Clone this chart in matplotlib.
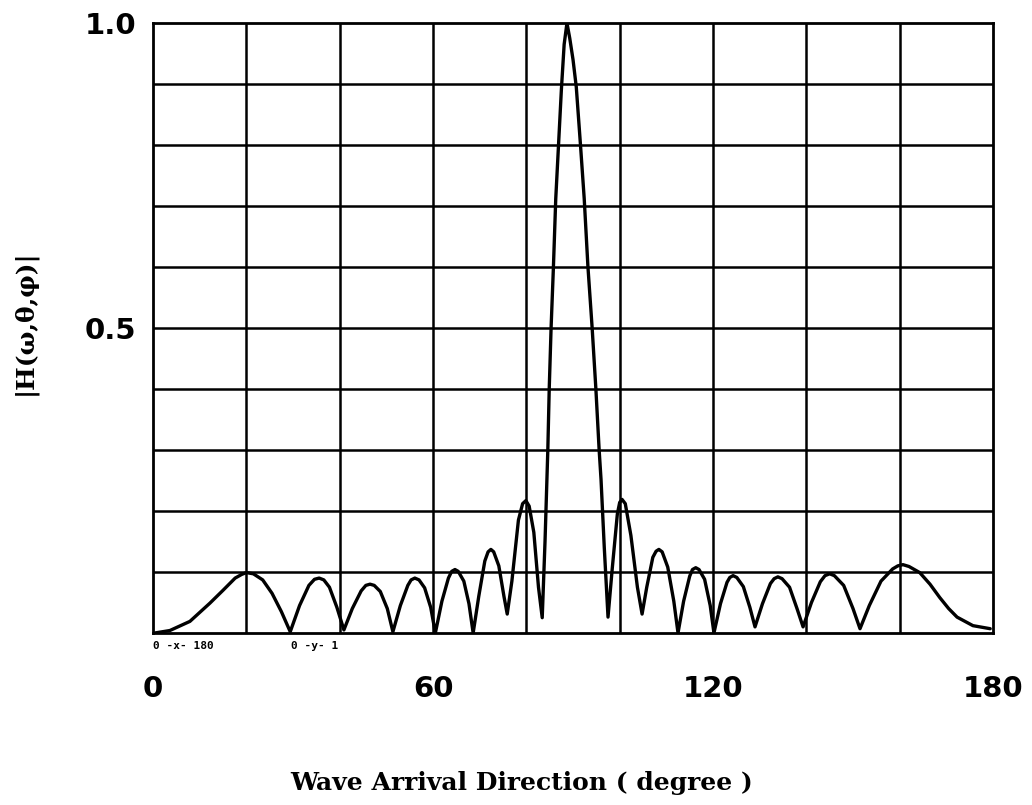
import matplotlib
matplotlib.use("Agg")
import matplotlib.pyplot as plt

# beam pattern, one line per lobe
angles = [0.4, 3.6, 7.9, 12.2, 15.0, 17.6, 19.0, 20.0, 21.5, 23.5, 25.5, 27.5, 29.4,
          31.4, 33.4, 34.6, 35.6, 36.6, 37.8, 39.4, 40.9,
          42.7, 44.6, 45.6, 46.5, 47.4, 48.7, 50.2, 51.4,
          53.0, 54.6, 55.3, 56.1, 57.0, 58.2, 59.5, 60.5,
          61.9, 63.3, 64.0, 64.7, 65.4, 66.6, 67.7, 68.6,
          69.8, 71.1, 71.8, 72.4, 73.0, 74.1, 75.2, 75.9,
          76.9, 78.3, 79.2, 79.9, 80.6, 81.6, 82.6, 83.4,
          84.0, 84.6, 84.9, 85.3, 85.8, 86.3, 86.9, 87.5, 88.1, 88.7,
          89.3, 90.0, 90.7, 91.6, 92.4, 93.2, 94.1, 94.9, 95.6, 96.0, 96.7, 97.5,
          98.4, 99.5, 100.0, 100.5, 101.2, 102.4, 103.8, 104.8,
          105.8, 107.1, 107.8, 108.4, 109.1, 110.3, 111.6, 112.5,
          113.7, 115.0, 115.6, 116.3, 117.0, 118.2, 119.4, 120.2,
          121.6, 123.0, 123.6, 124.3, 125.1, 126.5, 127.9, 129.0,
          130.6, 132.3, 133.1, 133.9, 134.8, 136.4, 138.0, 139.3,
          141.1, 143.0, 144.0, 145.0, 146.0, 148.0, 150.0, 151.5,
          153.5, 156.0, 158.5, 159.6, 160.7, 162.0, 164.3, 166.5, 168.6, 170.5, 172.3, 175.7, 179.4]
response = [0.000, 0.004, 0.019, 0.049, 0.070, 0.090, 0.096, 0.099, 0.097, 0.087, 0.065, 0.035, 0.002,
            0.045, 0.078, 0.088, 0.090, 0.087, 0.075, 0.042, 0.005,
            0.040, 0.069, 0.078, 0.080, 0.078, 0.068, 0.040, 0.002,
            0.045, 0.078, 0.087, 0.090, 0.087, 0.074, 0.042, 0.000,
            0.052, 0.090, 0.101, 0.104, 0.101, 0.085, 0.048, 0.000,
            0.060, 0.118, 0.133, 0.137, 0.133, 0.110, 0.060, 0.031,
            0.085, 0.185, 0.212, 0.217, 0.208, 0.165, 0.075, 0.025,
            0.150, 0.300, 0.400, 0.500, 0.600, 0.712, 0.800, 0.890, 0.965, 1.000,
            0.975, 0.940, 0.895, 0.800, 0.712, 0.600, 0.500, 0.400, 0.300, 0.252, 0.140, 0.026,
            0.105, 0.195, 0.214, 0.219, 0.212, 0.160, 0.075, 0.031,
            0.075, 0.124, 0.134, 0.137, 0.133, 0.108, 0.052, 0.000,
            0.052, 0.093, 0.104, 0.107, 0.104, 0.088, 0.045, 0.000,
            0.048, 0.083, 0.091, 0.094, 0.091, 0.076, 0.042, 0.010,
            0.048, 0.081, 0.089, 0.092, 0.089, 0.075, 0.040, 0.010,
            0.050, 0.084, 0.094, 0.097, 0.094, 0.078, 0.040, 0.007,
            0.045, 0.085, 0.105, 0.110, 0.112, 0.109, 0.099, 0.080, 0.058, 0.040, 0.026, 0.012, 0.007]

xticks = [0, 60, 120, 180]
yticks = [0.5, 1.0]

fig = plt.figure(figsize=(10.32, 8.05), dpi=100)
ax = fig.add_axes([0.1483, 0.2137, 0.8139, 0.7577])

ax.plot(angles, response, color="black", linewidth=2.4,
        solid_joinstyle="round", solid_capstyle="round")

# grid every 20 degrees / 0.1
for g in range(20, 180, 20):
    ax.axvline(g, color="black", linewidth=1.8, zorder=1)
for k in range(1, 10):
    ax.axhline(k / 10.0, color="black", linewidth=1.8, zorder=1)

ax.set_xlim(0, 180)
ax.set_ylim(0, 1.0)
for s in ax.spines.values():
    s.set_linewidth(2.0)

ax.set_xticks(xticks)
ax.set_xticklabels(["%d" % t for t in xticks], fontsize=21, fontweight="black")
ax.set_yticks(yticks)
ax.set_yticklabels(["%.1f" % t for t in yticks], fontsize=21, fontweight="black")
ax.tick_params(axis="x", length=0, pad=30)
ax.tick_params(axis="y", length=0, pad=12)

ax.text(0, -0.022, "0 -x- 180", transform=ax.get_xaxis_transform(), ha="left", va="center",
        fontsize=8, fontweight="bold", family="DejaVu Sans Mono")
ax.text(29.5, -0.022, "0 -y- 1", transform=ax.get_xaxis_transform(), ha="left", va="center",
        fontsize=8, fontweight="bold", family="DejaVu Sans Mono")

fig.text(0.505, 0.012, "Wave Arrival Direction ( degree )", ha="center", va="bottom",
         fontsize=18, fontweight="bold", family="DejaVu Serif")
fig.text(0.024, 0.60, "|H(\u03c9,\u03b8,\u03c6)|", rotation=90, ha="center", va="center",
         fontsize=18, fontweight="bold", family="DejaVu Serif")

plt.savefig("out.png", dpi=100)
